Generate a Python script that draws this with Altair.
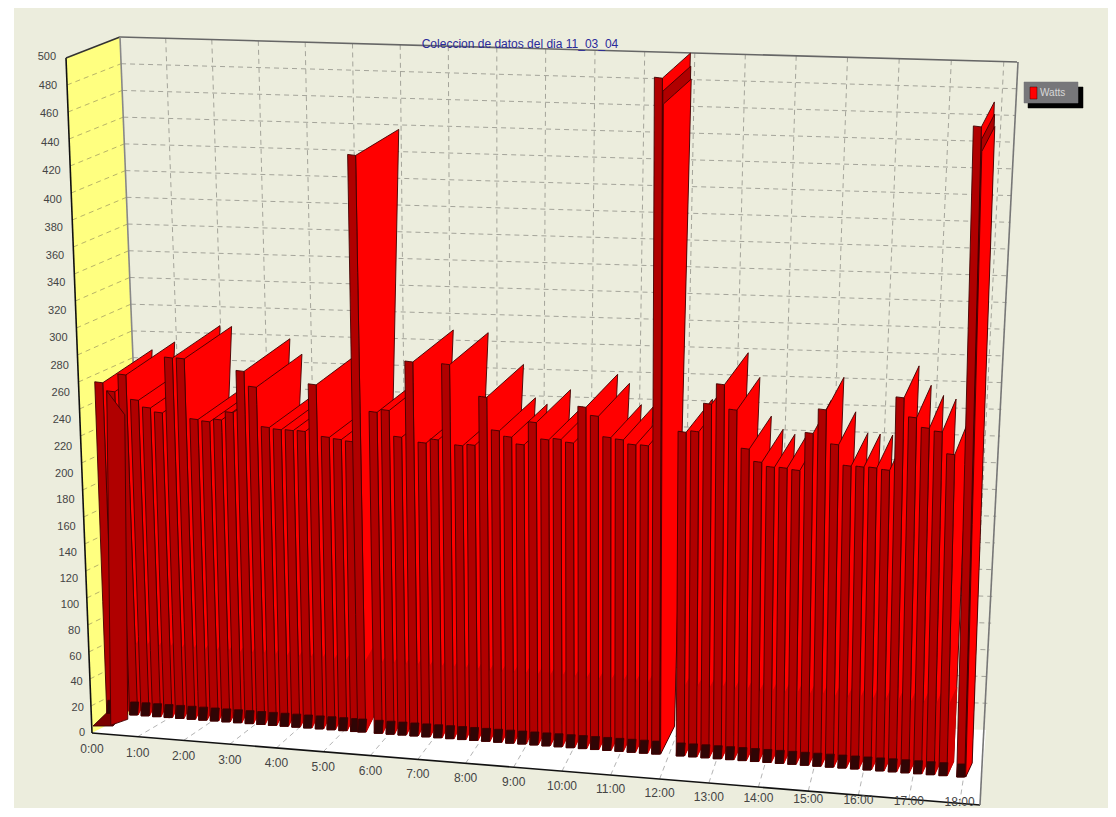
import altair as alt
import numpy as np
import pandas as pd

BG = "#ECEDDD"
BRIGHT = "#FF0000"
MID = "#D40000"
DARK = "#B00000"
EDGE = "#400000"
FOOT = "#300505"

title_text = "Coleccion de datos del dia 11_03_04"
legend_text = "Watts"

# Quarter-hour readings (hour of day, watts)
hours = [0.5, 0.75, 1, 1.25, 1.5, 1.75, 2, 2.25, 2.5, 2.75, 3, 3.25, 3.5, 3.75, 4, 4.25, 4.5, 4.75,
         5, 5.25, 5.5, 5.75, 5.9, 6.25, 6.5, 6.75, 7, 7.25, 7.5, 7.75, 8, 8.25, 8.5, 8.75, 9, 9.25,
         9.5, 9.75, 10, 10.25, 10.5, 10.75, 11, 11.25, 11.5, 11.75, 12, 12.5, 12.75, 13, 13.25,
         13.5, 13.75, 14, 14.25, 14.5, 14.75, 15, 15.25, 15.5, 15.75, 16, 16.25, 16.5, 16.75, 17,
         17.25, 17.5, 17.75, 18.1]
watts = [243, 237, 250, 232, 227, 224, 265, 265, 221, 220, 222, 228, 259, 248, 219, 218, 218, 218,
         253, 215, 214, 213, 424, 236, 238, 219, 275, 216, 219, 275, 216, 217, 253, 229, 225, 220,
         237, 225, 226, 224, 251, 245, 230, 229, 226, 226, 497, 238, 239, 260, 275,
         257, 229, 220, 217, 217, 216, 244, 262, 237, 222, 222, 222, 221, 275, 261,
         254, 252, 236, 478]
# Spikes show a second, slightly lower top edge
inner_tops = {12: 478, 18.1: 460}

y_ticks = list(range(0, 501, 20))
x_ticks = ["0:00", "1:00", "2:00", "3:00", "4:00", "5:00", "6:00", "7:00", "8:00", "9:00", "10:00",
           "11:00", "12:00", "13:00", "14:00", "15:00", "16:00", "17:00", "18:00"]


# --- projection of the chart's pseudo-3D box ---
def front_x(h):
    return 92 + 45.5 * h + 0.15 * h * h


def base_y(x):
    return 715 + 0.075 * (x - 138)


def lean(h):
    return -26 + 2.4 * h


def fin_dx(h):
    return float(np.interp(h, [0, 6, 12, 15, 18], [50, 43, 28, 18, 13]))


def axis_y(w):
    return 733 - 1.26 * w - 0.000184 * w * w


def back_top_x(h):
    return 120 + 45.5 * h + 0.2 * h * h


def lerp(a, b, t):
    return a + (b - a) * t


BL_T, BL_B = (120, 37), (147, 705)
BR_T, BR_B = (1018, 62), (986, 730)
FL_T, FL_B = (66, 58), (92, 733)
FR_B = (980, 805)

pid = [0]


def poly(rows, pts, fill, edge=EDGE):
    """Convex polygon as an area piece: lower/upper envelope at each vertex x."""
    pid[0] += 1
    xs = sorted({p[0] for p in pts})
    n = len(pts)
    for x in xs:
        ys = []
        for i in range(n):
            a, b = pts[i], pts[(i + 1) % n]
            if min(a[0], b[0]) <= x <= max(a[0], b[0]):
                if a[0] == b[0]:
                    ys += [a[1], b[1]]
                else:
                    ys.append(a[1] + (b[1] - a[1]) * (x - a[0]) / (b[0] - a[0]))
        rows.append(dict(x=x, y=min(ys), y2=max(ys), piece=pid[0], fill=fill, edge=edge))


def add_bar(rows, h, w, fin_fill=BRIGHT, front=True):
    x0 = front_x(h)
    y0 = base_y(x0)
    f = w / 500
    H = 680
    xt = x0 + lean(h) * f
    yt = y0 - H * f
    d = fin_dx(h)
    dy = -33 + 8 * min(1, max(0, (w - 250) / 200))
    xb, yb = x0 + d * 0.5, y0 - max(d, 14)
    poly(rows, [(x0, y0), (xb, yb), (xt + d, yt + dy), (xt, yt)], fin_fill)
    if fin_fill == BRIGHT and front:
        s = 70 / (H * f)
        poly(rows, [(x0 + 0.5, y0), (xb, yb), (lerp(xb, xt + d, s), lerp(yb, yt + dy, s)),
                    (lerp(x0, xt, s) + 0.5, y0 - 70)], MID, MID)
    if front:
        fw = 8
        poly(rows, [(x0 - fw, y0), (x0, y0), (xt, yt), (xt - fw, yt - 1)], DARK)
        poly(rows, [(x0 - fw, y0), (x0, y0), (x0 + 1, y0 - 13), (x0 - fw + 1, y0 - 13)], FOOT)


bar_rows = []
poly(bar_rows, [(93, 726), (113, 726), (140, 695), (120, 700)], "#7A0000")
for h, w in zip(hours, watts):
    add_bar(bar_rows, h, w)
    if h in inner_tops:
        add_bar(bar_rows, h + 0.01, (w + inner_tops[h]) / 2, DARK, front=False)
        add_bar(bar_rows, h + 0.02, inner_tops[h], BRIGHT, front=False)
    if h == 1:
        # nearest corner post of the first block, in front of its neighbours
        x0 = front_x(0.5)
        y0 = base_y(x0) + 12
        t = y0 - 680 * watts[0] / 500
        poly(bar_rows, [(x0 - 4, y0), (x0 + 13, y0 - 6), (x0 + 10, t + 20), (x0 - 8, t - 4)], DARK)

bg_rows = []
poly(bg_rows, [(8, 8), (14, 8), (14, 808), (8, 808)], "#FFFFFF", "#FFFFFF")
poly(bg_rows, [FL_T, BL_T, BL_B, FL_B], "#FFFF80", "#FFFF80")
poly(bg_rows, [FL_B, BL_B, BR_B, FR_B], "#FFFFFF", "#FFFFFF")

# --- grid ---
grid = []
gid = 0


def seg(rows, a, b, color, g):
    rows.append(dict(x=a[0], y=a[1], g=g, c=color, k=0))
    rows.append(dict(x=b[0], y=b[1], g=g, c=color, k=1))


for w in y_ticks[1:-1]:
    t = 1 - w / 500
    gid += 1
    seg(grid, (lerp(BL_T[0], BL_B[0], t), lerp(BL_T[1], BL_B[1], t)),
        (lerp(BR_T[0], BR_B[0], t), lerp(BR_T[1], BR_B[1], t)), "#A4A49A", gid)
    gid += 1
    seg(grid, (lerp(FL_T[0], FL_B[0], t), lerp(FL_T[1], FL_B[1], t)),
        (lerp(BL_T[0], BL_B[0], t), lerp(BL_T[1], BL_B[1], t)), "#B8B468", gid)

for h in range(1, 19):
    xt = back_top_x(h)
    yt = lerp(BL_T[1], BR_T[1], (xt - BL_T[0]) / (BR_T[0] - BL_T[0]))
    xb = xt + 27 - 61 * h / 18.3
    yb = lerp(BL_B[1], BR_B[1], (xb - BL_B[0]) / (BR_B[0] - BL_B[0]))
    gid += 1
    seg(grid, (xt, yt), (xb, yb), "#A4A49A", gid)
    xf = front_x(h)
    yf = lerp(FL_B[1], FR_B[1], (xf - FL_B[0]) / (FR_B[0] - FL_B[0]))
    gid += 1
    seg(grid, (xf, yf), (xb, yb), "#B4B4B4", gid)

# --- box edges ---
edges = []
seg(edges, FL_T, FL_B, "#111111", 1)
seg(edges, FL_B, FR_B, "#111111", 2)
seg(edges, FL_T, BL_T, "#333333", 3)
seg(edges, BL_T, BR_T, "#666666", 4)
seg(edges, BL_T, BL_B, "#888888", 5)
seg(edges, BR_T, FR_B, "#777777", 6)

X = alt.X("x:Q", scale=alt.Scale(domain=[8, 1108], nice=False, zero=False), axis=None)
Y = alt.Y("y:Q", scale=alt.Scale(domain=[808, 8], nice=False, zero=False), axis=None)


def areas(rows, **mk):
    return alt.Chart(pd.DataFrame(rows)).mark_area(interpolate="linear", opacity=1, **mk).encode(
        x=X, y=Y, y2="y2:Q", detail="piece:N",
        color=alt.Color("fill:N", scale=None), stroke=alt.Stroke("edge:N", scale=None))


def lines(rows, **mk):
    return alt.Chart(pd.DataFrame(rows)).mark_line(**mk).encode(
        x=X, y=Y, detail="g:N", order="k:Q", color=alt.Color("c:N", scale=None))


def texts(rows, **mk):
    return alt.Chart(pd.DataFrame(rows)).mark_text(font="Liberation Sans", **mk).encode(
        x=X, y=Y, text="t:N")


def x_label_y(i):
    # the picture's last labels run off its lower edge: hold them just inside
    return min(749 + 0.078 * (front_x(i) - 92), 797 + (i - 13) * 0.9)


y_labels = [dict(x=56 + (500 - w) * 0.058, y=axis_y(w), t=str(w)) for w in y_ticks]
x_labels = [dict(x=front_x(i), y=x_label_y(i), t=s) for i, s in enumerate(x_ticks)]

legend_rows = []
poly(legend_rows, [(1028, 87), (1083, 87), (1083, 108), (1028, 108)], "#000000", "#000000")
poly(legend_rows, [(1024, 82), (1078, 82), (1078, 103), (1024, 103)], "#77777A", "#77777A")
poly(legend_rows, [(1030, 87), (1037, 87), (1037, 99), (1030, 99)], "#FF0000", "#400000")

chart = alt.layer(
    areas(bg_rows, strokeWidth=0),
    lines(grid, strokeDash=[5, 4], strokeWidth=1),
    lines(edges, strokeWidth=1.6),
    areas(bar_rows, strokeWidth=0.9),
    texts(y_labels, align="right", baseline="middle", fontSize=11, color="#444444"),
    texts(x_labels, align="center", baseline="middle", fontSize=12, color="#444444"),
    texts([dict(x=520, y=44, t=title_text)], align="center", baseline="middle", fontSize=12, color="#2A2A9A"),
    areas(legend_rows, strokeWidth=0.5),
    texts([dict(x=1040, y=93, t=legend_text)], align="left", baseline="middle", fontSize=10, color="#D8D8D8"),
).properties(
    width=1100, height=800, padding=0, background=BG,
    autosize=alt.AutoSizeParams(type="none"),
).configure_view(stroke=None)

chart.save("out.html", embed_options={"renderer": "svg", "actions": False})
